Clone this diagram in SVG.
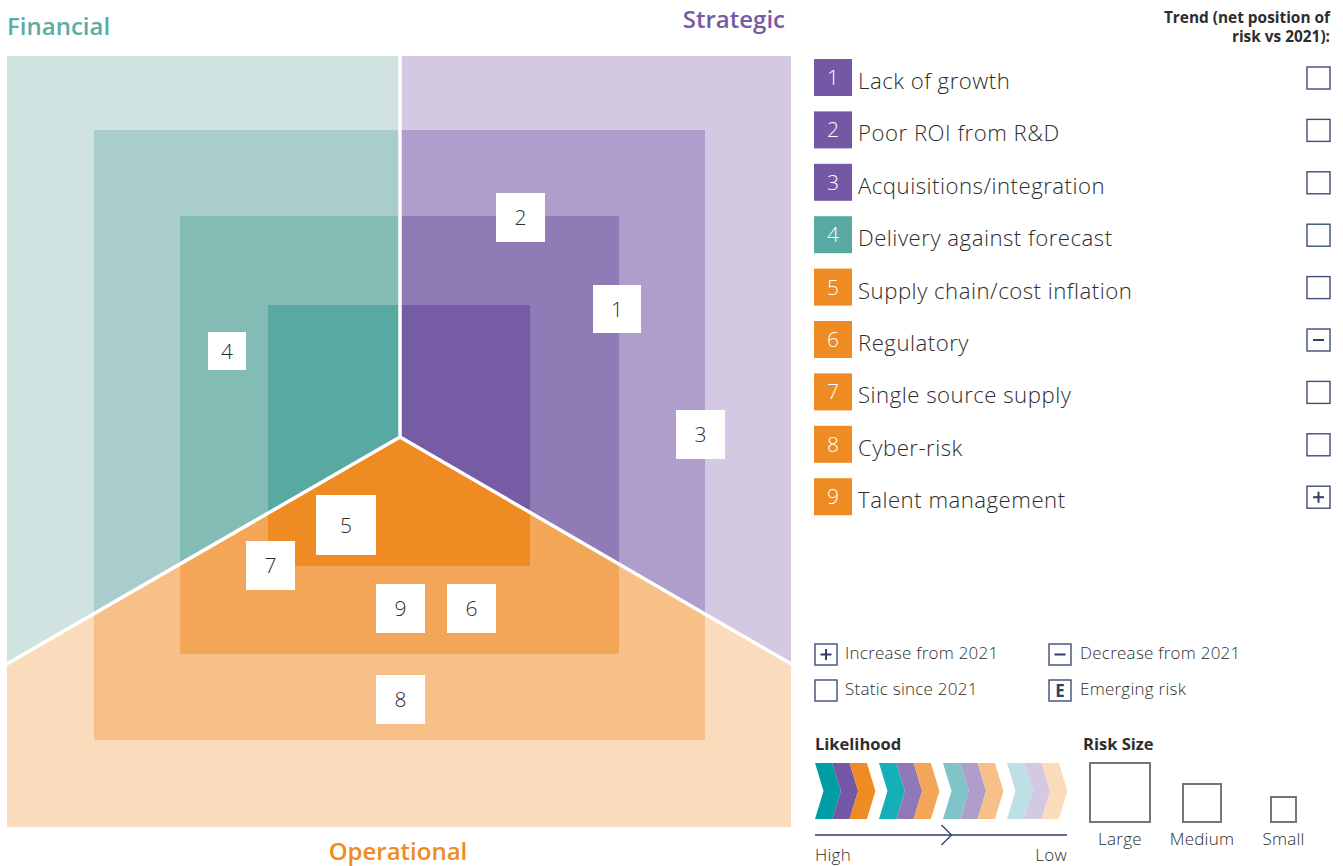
<svg xmlns="http://www.w3.org/2000/svg" width="1343" height="866" viewBox="0 0 1343 866">
<style>
text{font-family:"Open Sans","Liberation Sans",sans-serif;fill:#2d2d2d}
.title{font-size:24px;font-weight:600}
.num{font-size:21px;text-anchor:middle;font-weight:300}
.lnum{font-size:21px;fill:#fff;text-anchor:middle;font-weight:300}
.lab{font-size:22.2px;font-weight:300;letter-spacing:0.5px}
.small{font-size:17px;font-weight:300;letter-spacing:0.25px}
.hdr{font-size:15.4px;font-weight:700;text-anchor:end}
.bold{font-size:16.5px;font-weight:700}
.wbox{fill:#fff}
.tbox{fill:#fff;stroke:#3e4f75;stroke-width:1.4}
.sbox{fill:#fff;stroke:#6e7880;stroke-width:2}
.sym{stroke:#2f3f66;stroke-width:2}
.sep{fill:none;stroke:#fff;stroke-width:3.5;stroke-linejoin:miter}
</style>
<defs>
<clipPath id="cFin"><polygon points="7,56 400,56 400,437 7,664"/></clipPath>
<clipPath id="cStr"><polygon points="400,56 791,56 791,664 400,437"/></clipPath>
<clipPath id="cOps"><polygon points="7,664 400,437 791,664 791,827 7,827"/></clipPath>
<polygon id="chev" points="0,0 17.3,0 25.8,28 17.3,56 0,56 8.5,28"/>
<rect id="L1" x="7" y="56" width="784" height="771"/>
<rect id="L2" x="94" y="130" width="611" height="610"/>
<rect id="L3" x="180" y="216" width="439" height="438"/>
<rect id="L4" x="268" y="305" width="262" height="261"/>
</defs>

<g id="financial" clip-path="url(#cFin)">
<use href="#L1" fill="#d0e3e1"/>
<use href="#L2" fill="#a9cdca"/>
<use href="#L3" fill="#83bbb5"/>
<use href="#L4" fill="#57a9a1"/>
</g>
<g id="strategic" clip-path="url(#cStr)">
<use href="#L1" fill="#d3c9e3"/>
<use href="#L2" fill="#af9ecb"/>
<use href="#L3" fill="#917bb7"/>
<use href="#L4" fill="#765ba5"/>
</g>
<g id="operational" clip-path="url(#cOps)">
<use href="#L1" fill="#fadcbd"/>
<use href="#L2" fill="#f6c088"/>
<use href="#L3" fill="#f3a658"/>
<use href="#L4" fill="#ef8b23"/>
</g>
<g id="separators">
<polyline class="sep" points="400,54 400,437"/>
<polyline class="sep" points="5,665 400,437 793,665"/>
</g>

<text class="title" x="7" y="35" style="fill:#5bada4">Financial</text>
<text class="title" x="785" y="28" text-anchor="end" style="fill:#765ba5">Strategic</text>
<text class="title" x="398" y="860" text-anchor="middle" style="fill:#ef8b23">Operational</text>

<g id="risk-1"><rect class="wbox" x="593" y="285" width="48" height="48"/><text class="num" x="617" y="317">1</text></g>
<g id="risk-2"><rect class="wbox" x="496" y="193" width="49" height="49"/><text class="num" x="520.5" y="225">2</text></g>
<g id="risk-3"><rect class="wbox" x="676" y="410" width="49" height="49"/><text class="num" x="700.5" y="442">3</text></g>
<g id="risk-4"><rect class="wbox" x="208" y="332" width="38" height="38"/><text class="num" x="227" y="359">4</text></g>
<g id="risk-5"><rect class="wbox" x="316" y="495" width="60" height="60"/><text class="num" x="346" y="533">5</text></g>
<g id="risk-6"><rect class="wbox" x="447" y="584" width="49" height="49"/><text class="num" x="471.5" y="616">6</text></g>
<g id="risk-7"><rect class="wbox" x="246" y="541" width="49" height="49"/><text class="num" x="270.5" y="573">7</text></g>
<g id="risk-8"><rect class="wbox" x="376" y="675" width="49" height="49"/><text class="num" x="400.5" y="707">8</text></g>
<g id="risk-9"><rect class="wbox" x="376" y="584" width="49" height="49"/><text class="num" x="400.5" y="616">9</text></g>

<g id="trend-header">
<text class="hdr" x="1330" y="23">Trend (net position of</text>
<text class="hdr" x="1330" y="42">risk vs 2021):</text>
</g>

<g id="legend-list">
<g id="item-1"><rect x="814" y="59" width="38" height="37" fill="#7558a5"/><text class="lnum" x="833" y="85">1</text><text class="lab" x="858" y="89">Lack of growth</text><rect class="tbox" x="1307" y="67" width="23" height="22"/></g>
<g id="item-2"><rect x="814" y="111.4" width="38" height="37" fill="#7558a5"/><text class="lnum" x="833" y="137.4">2</text><text class="lab" x="858" y="141.4">Poor ROI from R&amp;D</text><rect class="tbox" x="1307" y="119.4" width="23" height="22"/></g>
<g id="item-3"><rect x="814" y="163.8" width="38" height="37" fill="#7558a5"/><text class="lnum" x="833" y="189.8">3</text><text class="lab" x="858" y="193.8">Acquisitions/integration</text><rect class="tbox" x="1307" y="171.8" width="23" height="22"/></g>
<g id="item-4"><rect x="814" y="216.2" width="38" height="37" fill="#57a9a1"/><text class="lnum" x="833" y="242.2">4</text><text class="lab" x="858" y="246.2">Delivery against forecast</text><rect class="tbox" x="1307" y="224.2" width="23" height="22"/></g>
<g id="item-5"><rect x="814" y="268.6" width="38" height="37" fill="#ef8b23"/><text class="lnum" x="833" y="294.6">5</text><text class="lab" x="858" y="298.6">Supply chain/cost inflation</text><rect class="tbox" x="1307" y="276.6" width="23" height="22"/></g>
<g id="item-6"><rect x="814" y="321" width="38" height="37" fill="#ef8b23"/><text class="lnum" x="833" y="347">6</text><text class="lab" x="858" y="351">Regulatory</text><rect class="tbox" x="1307" y="329" width="23" height="22"/><line class="sym" x1="1313" y1="340" x2="1324" y2="340"/></g>
<g id="item-7"><rect x="814" y="373.4" width="38" height="37" fill="#ef8b23"/><text class="lnum" x="833" y="399.4">7</text><text class="lab" x="858" y="403.4">Single source supply</text><rect class="tbox" x="1307" y="381.4" width="23" height="22"/></g>
<g id="item-8"><rect x="814" y="425.8" width="38" height="37" fill="#ef8b23"/><text class="lnum" x="833" y="451.8">8</text><text class="lab" x="858" y="455.8">Cyber-risk</text><rect class="tbox" x="1307" y="433.8" width="23" height="22"/></g>
<g id="item-9"><rect x="814" y="478.2" width="38" height="37" fill="#ef8b23"/><text class="lnum" x="833" y="504.2">9</text><text class="lab" x="858" y="508.2">Talent management</text><rect class="tbox" x="1307" y="486.2" width="23" height="22"/><line class="sym" x1="1313" y1="497.2" x2="1324" y2="497.2"/><line class="sym" x1="1318.5" y1="491.7" x2="1318.5" y2="502.7"/></g>
</g>

<g id="trend-key">
<rect class="tbox" x="815" y="644" width="22" height="21"/><line class="sym" x1="820.5" y1="654.5" x2="831.5" y2="654.5"/><line class="sym" x1="826" y1="649" x2="826" y2="660"/>
<text class="small" x="845" y="659">Increase from 2021</text>
<rect class="tbox" x="1049" y="644" width="22" height="21"/><line class="sym" x1="1054.5" y1="654.5" x2="1065.5" y2="654.5"/>
<text class="small" x="1080" y="659">Decrease from 2021</text>
<rect class="tbox" x="815" y="680" width="22" height="21"/>
<text class="small" x="845" y="695">Static since 2021</text>
<rect class="tbox" x="1049" y="680" width="22" height="21"/><text x="1060" y="697" text-anchor="middle" style="font-size:17px;font-weight:700;fill:#2f3f66">E</text>
<text class="small" x="1080" y="695">Emerging risk</text>
</g>

<g id="likelihood">
<text class="bold" x="815" y="750">Likelihood</text>
<use href="#chev" x="815" y="763" fill="#009ea4"/>
<use href="#chev" x="832.3" y="763" fill="#7558a5"/>
<use href="#chev" x="849.6" y="763" fill="#ef8b23"/>
<use href="#chev" x="879" y="763" fill="#14afb7"/>
<use href="#chev" x="896.3" y="763" fill="#8f78b7"/>
<use href="#chev" x="913.6" y="763" fill="#f3a658"/>
<use href="#chev" x="943" y="763" fill="#80c3c8"/>
<use href="#chev" x="960.3" y="763" fill="#af9ecb"/>
<use href="#chev" x="977.6" y="763" fill="#f6c088"/>
<use href="#chev" x="1007" y="763" fill="#bedfe3"/>
<use href="#chev" x="1024.3" y="763" fill="#d3c9e3"/>
<use href="#chev" x="1041.6" y="763" fill="#fadcbd"/>
<line x1="815" y1="835" x2="1067" y2="835" stroke="#2f3f66" stroke-width="1.3"/>
<polyline points="941.5,825 951.5,835 941.5,845" fill="none" stroke="#2f3f66" stroke-width="1.3"/>
<text class="small" x="815" y="861">High</text>
<text class="small" x="1067" y="861" text-anchor="end">Low</text>
</g>

<g id="risk-size">
<text class="bold" x="1083" y="750">Risk Size</text>
<rect class="sbox" x="1090" y="763" width="60" height="59"/>
<rect class="sbox" x="1183" y="784" width="38" height="38"/>
<rect class="sbox" x="1271" y="797" width="25" height="25"/>
<text class="small" x="1120" y="845" text-anchor="middle">Large</text>
<text class="small" x="1202" y="845" text-anchor="middle">Medium</text>
<text class="small" x="1283.5" y="845" text-anchor="middle">Small</text>
</g>
</svg>
